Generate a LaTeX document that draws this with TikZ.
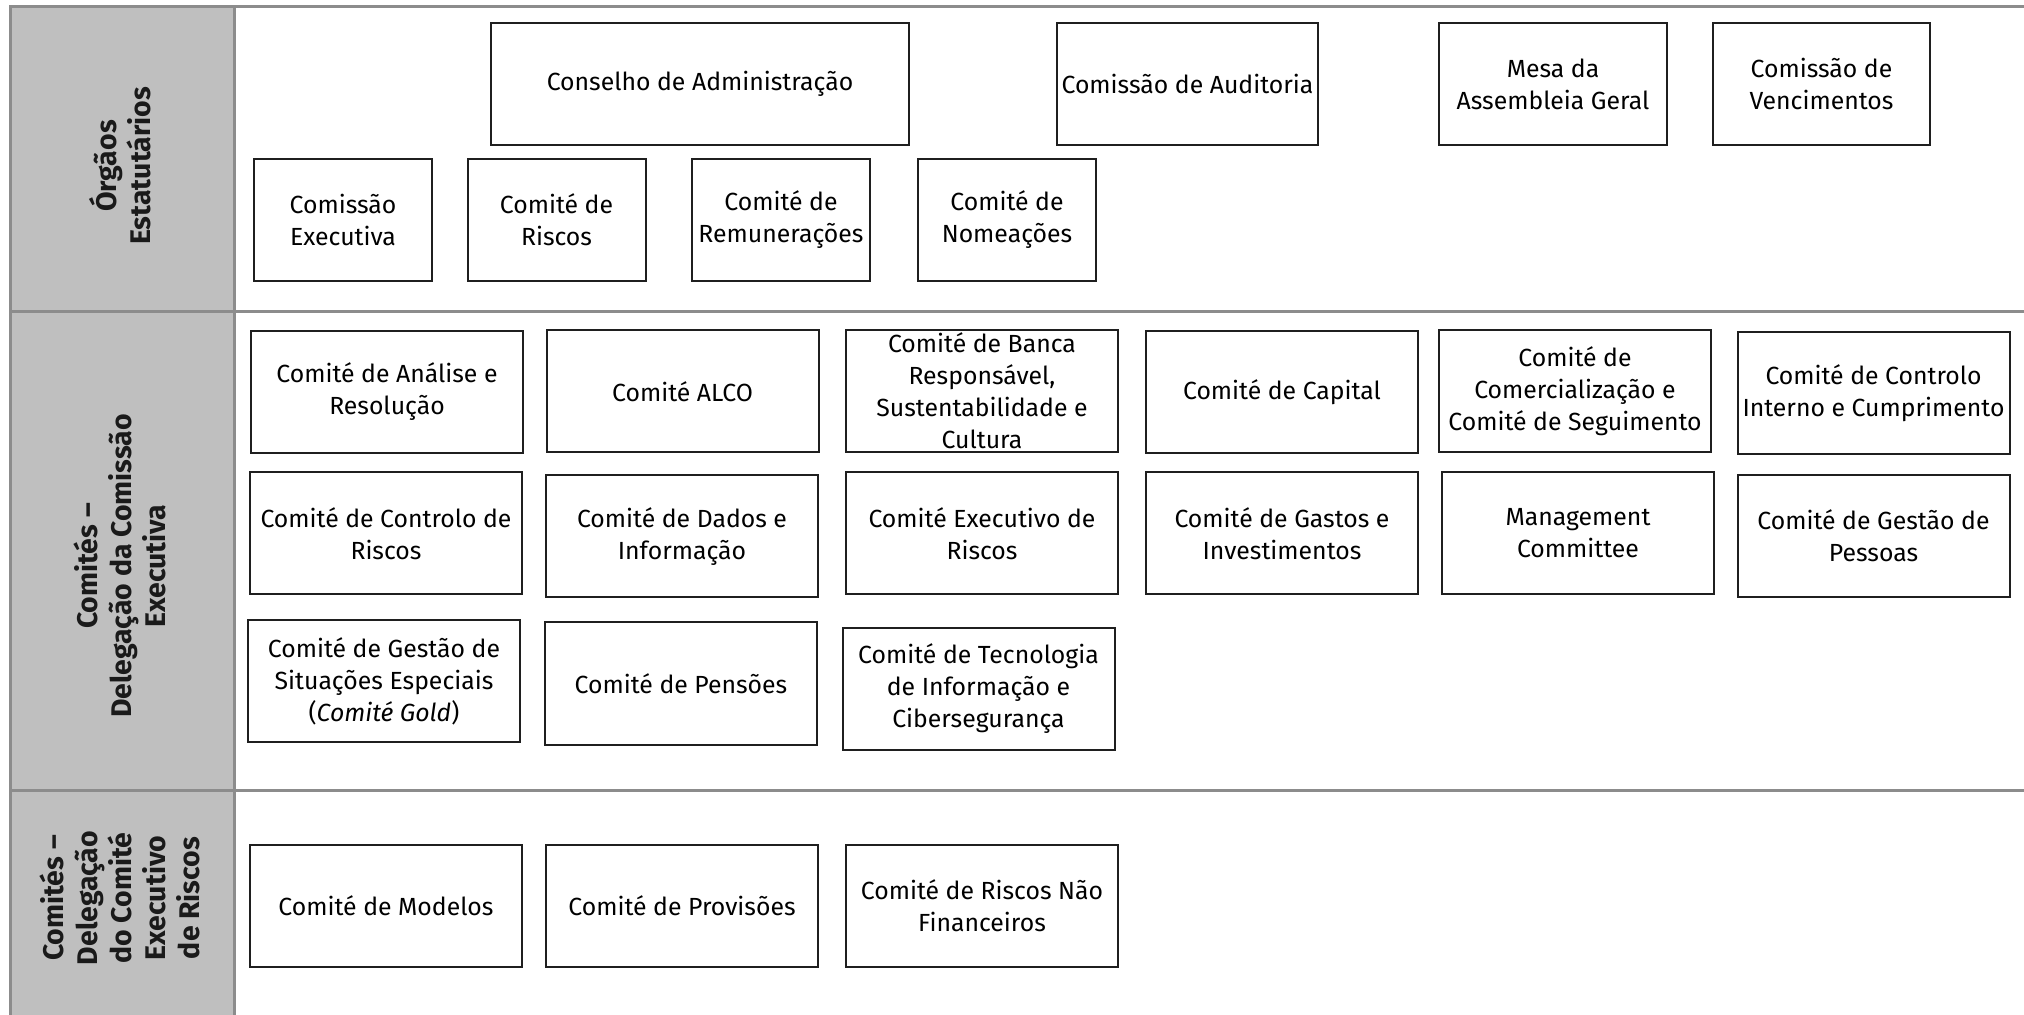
\documentclass[tikz,border=0pt]{standalone}
\usepackage{fontspec}
\setmainfont{Fira Sans}
\definecolor{framegray}{HTML}{8C8C8C}
\definecolor{colgray}{HTML}{BFBFBF}
\definecolor{boxline}{HTML}{1F1F1F}
\definecolor{labeltext}{HTML}{1A1A1A}
\begin{document}
\begin{tikzpicture}[x=0.5pt,y=-0.5pt,
  frameline/.style={draw=framegray, line width=1.5pt},
  box/.style={draw=boxline, line width=1pt, fill=white, align=center, inner sep=0pt,
    font=\fontsize{12.4}{16}\selectfont, text=black, minimum height=61pt},
  wide/.style={minimum width=136pt},
  small/.style={minimum width=89pt},
  lbl/.style={rotate=90, align=center, inner sep=0pt,
    font=\fontsize{14.2}{17}\selectfont\bfseries, text=labeltext},
]
\useasboundingbox (0,0) rectangle (2024,1015);
% frame
\fill[colgray] (10,7) rectangle (234,1015);
\draw[frameline] (10,1015) -- (10,7) -- (2024,7);
\draw[frameline] (234,7) -- (234,1015);
\draw[frameline] (10,312) -- (2024,312);
\draw[frameline] (10,790) -- (2024,790);

% row labels
\node[lbl] (lab1) at (120,166) {Órgãos\\Estatutários};
\node[lbl] (lab2) at (120,566) {Comités –\\Delegação da Comissão\\Executiva};
\node[lbl] (lab3) at (120,898) {Comités –\\Delegação\\do Comité\\Executivo\\de Riscos};

% Órgãos Estatutários
\node[box, minimum width=209pt] (cons) at (700,84) {Conselho de Administração};
\node[box, minimum width=130.5pt] (aud) at (1187.5,84) {Comissão de Auditoria};
\node[box, minimum width=114pt] (mesa) at (1553,84) {Mesa da\\Assembleia Geral};
\node[box, minimum width=108.5pt] (venc) at (1821.5,84) {Comissão de\\Vencimentos};
\node[box, small] (cexec) at (343,220) {Comissão\\Executiva};
\node[box, small] (crisc) at (556.5,220) {Comité de\\Riscos};
\node[box, small] (remun) at (781,220) {Comité de\\Remunerações};
\node[box, small] (nomea) at (1007,220) {Comité de\\Nomeações};

% Comités - Delegação da Comissão Executiva
\node[box, wide] (anal) at (387,392) {Comité de Análise e\\Resolução};
\node[box, wide] (alco) at (682.5,391.5) {Comité ALCO};
\node[box, wide] (banca) at (982,391) {Comité de Banca\\Responsável,\\Sustentabilidade e\\Cultura};
\node[box, wide] (capit) at (1282,392.5) {Comité de Capital};
\node[box, wide] (comer) at (1575,391) {Comité de\\Comercialização e\\Comité de Seguimento};
\node[box, wide] (cicum) at (1873.5,393.5) {Comité de Controlo\\Interno e Cumprimento};

\node[box, wide] (ctrlr) at (386,533.5) {Comité de Controlo de\\Riscos};
\node[box, wide] (dados) at (682,536.5) {Comité de Dados e\\Informação};
\node[box, wide] (execr) at (982,533.5) {Comité Executivo de\\Riscos};
\node[box, wide] (gasto) at (1282,533.5) {Comité de Gastos e\\Investimentos};
\node[box, wide] (mgmt) at (1578,533.5) {Management\\Committee};
\node[box, wide] (pesso) at (1873.5,536) {Comité de Gestão de\\Pessoas};

\node[box, wide] (gold) at (384,681) {Comité de Gestão de\\Situações Especiais\\(\textit{Comité Gold})};
\node[box, wide] (pens) at (681,683.5) {Comité de Pensões};
\node[box, wide] (tecno) at (978.5,689) {Comité de Tecnologia\\de Informação e\\Cibersegurança};

% Comités - Delegação do Comité Executivo de Riscos
\node[box, wide] (model) at (386,906) {Comité de Modelos};
\node[box, wide] (provi) at (682,906) {Comité de Provisões};
\node[box, wide] (rnf) at (982,906) {Comité de Riscos Não\\Financeiros};
\end{tikzpicture}
\end{document}
